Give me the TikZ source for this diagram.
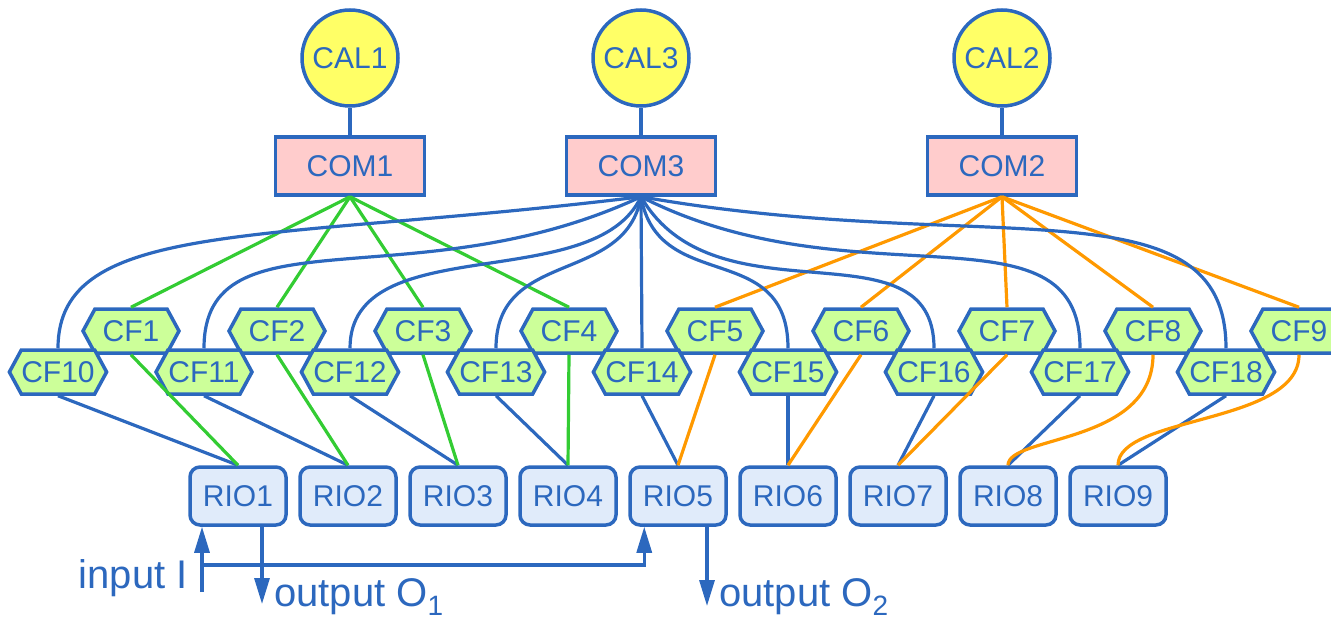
\documentclass[tikz,border=0pt]{standalone}
\usepackage{fontspec}
\setmainfont{Liberation Sans}
\usepackage{xcolor}
\usepackage{tikz}
\usetikzlibrary{positioning,shapes.symbols,arrows.meta}

\definecolor{netblue}{RGB}{44,104,190}
\definecolor{calyellow}{RGB}{255,255,102}
\definecolor{compink}{RGB}{255,204,204}
\definecolor{cfgreen}{RGB}{204,255,153}
\definecolor{riofill}{RGB}{224,235,250}
\definecolor{linkgreen}{RGB}{51,204,51}
\definecolor{linkorange}{RGB}{255,153,0}

\newcommand{\lowsub}[1]{\raisebox{-9pt}{\fontsize{28}{28}\selectfont #1}}

\begin{document}
\begin{tikzpicture}[x=1pt,y=-1pt,on grid,>={Triangle[length=26pt,width=15pt]},
  every node/.style={text=netblue,font=\fontsize{30}{36}\selectfont},
  cal/.style={circle,draw=netblue,fill=calyellow,line width=3.5pt,minimum size=96pt,inner sep=0pt},
  com/.style={rectangle,draw=netblue,fill=compink,line width=3.5pt,minimum width=149pt,minimum height=58pt,inner sep=0pt},
  cf/.style={signal,signal to=west and east,signal pointer angle=123,draw=netblue,fill=cfgreen,line width=3.5pt,minimum width=96pt,minimum height=44pt,inner sep=0pt},
  rio/.style={rectangle,rounded corners=10pt,draw=netblue,fill=riofill,line width=3.5pt,minimum width=96pt,minimum height=58pt,inner sep=0pt},
  lbl/.style={font=\fontsize{40}{48}\selectfont,inner sep=0pt},
  bline/.style={netblue,line width=3.2pt},
  gline/.style={linkgreen,line width=3.2pt},
  oline/.style={linkorange,line width=3.2pt}]
  \useasboundingbox (0,0) rectangle (1331,618);

  \node[cal] (cal1) at (350,58) {CAL1};
  \node[cal] [right=291pt of cal1] (cal3) {CAL3};
  \node[cal] [right=361pt of cal3] (cal2) {CAL2};
  \node[com] [below=108pt of cal1] (com1) {COM1};
  \node[com] [below=108pt of cal3] (com3) {COM3};
  \node[com] [below=108pt of cal2] (com2) {COM2};

  \node[cf] (cf1) at (131,331) {CF1};
  \node[cf] [right=146pt of cf1] (cf2) {CF2};
  \node[cf] [right=146pt of cf2] (cf3) {CF3};
  \node[cf] [right=146pt of cf3] (cf4) {CF4};
  \node[cf] [right=146pt of cf4] (cf5) {CF5};
  \node[cf] [right=146pt of cf5] (cf6) {CF6};
  \node[cf] [right=146pt of cf6] (cf7) {CF7};
  \node[cf] [right=146pt of cf7] (cf8) {CF8};
  \node[cf] [right=146pt of cf8] (cf9) {CF9};
  \node[cf] [below left=41pt and 73pt of cf1] (cf10) {CF10};
  \node[cf] [right=146pt of cf10] (cf11) {CF11};
  \node[cf] [right=146pt of cf11] (cf12) {CF12};
  \node[cf] [right=146pt of cf12] (cf13) {CF13};
  \node[cf] [right=146pt of cf13] (cf14) {CF14};
  \node[cf] [right=146pt of cf14] (cf15) {CF15};
  \node[cf] [right=146pt of cf15] (cf16) {CF16};
  \node[cf] [right=146pt of cf16] (cf17) {CF17};
  \node[cf] [right=146pt of cf17] (cf18) {CF18};

  \node[rio] (rio1) at (238,496) {RIO1};
  \node[rio] [right=110pt of rio1] (rio2) {RIO2};
  \node[rio] [right=110pt of rio2] (rio3) {RIO3};
  \node[rio] [right=110pt of rio3] (rio4) {RIO4};
  \node[rio] [right=110pt of rio4] (rio5) {RIO5};
  \node[rio] [right=110pt of rio5] (rio6) {RIO6};
  \node[rio] [right=110pt of rio6] (rio7) {RIO7};
  \node[rio] [right=110pt of rio7] (rio8) {RIO8};
  \node[rio] [right=110pt of rio8] (rio9) {RIO9};

  \node[lbl,anchor=base east] (inlbl) at (188,588) {input I};
  \node[lbl,anchor=base west] (outlbl1) at (274,606) {output O\lowsub{1}};
  \node[lbl,anchor=base west] (outlbl2) at (719,606) {output O\lowsub{2}};

  \coordinate (inp) at (202,592);
  \coordinate (split) at (202,565);
  \coordinate (out1) at (262,604);
  \coordinate (out2) at (707,606);

  \draw[bline] (cal1) -- (com1);
  \draw[bline] (cal3) -- (com3);
  \draw[bline] (cal2) -- (com2);

  \draw[gline] (com1.south) -- (cf1.north);
  \draw[gline] (com1.south) -- (cf2.north);
  \draw[gline] (com1.south) -- (cf3.north);
  \draw[gline] (com1.south) -- (cf4.north);
  \draw[oline] (com2.south) -- (cf5.north);
  \draw[oline] (com2.south) -- (cf6.north);
  \draw[oline] (com2.south) -- (cf7.north);
  \draw[oline] (com2.south) -- (cf8.north);
  \draw[oline] (com2.south) -- (cf9.north);

  \draw[bline] (com3.south) to[out=187,in=90,out distance=380pt,in distance=130pt] (cf10.north);
  \draw[bline] (com3.south) to[out=205,in=90,out distance=250pt,in distance=140pt] (cf11.north);
  \draw[bline] (com3.south) to[out=245,in=90,out distance=110pt,in distance=120pt] (cf12.north);
  \draw[bline] (com3.south) to[out=260,in=90,out distance=90pt,in distance=100pt] (cf13.north);
  \draw[bline] (com3.south) -- (cf14.north);
  \draw[bline] (com3.south) to[out=280,in=90,out distance=100pt,in distance=110pt] (cf15.north);
  \draw[bline] (com3.south) to[out=300,in=90,out distance=150pt,in distance=130pt] (cf16.north);
  \draw[bline] (com3.south) to[out=333,in=90,out distance=240pt,in distance=150pt] (cf17.north);
  \draw[bline] (com3.south) to[out=350,in=90,out distance=350pt,in distance=170pt] (cf18.north);

  \draw[bline] (cf10.south) -- (rio1.north);
  \draw[bline] (cf11.south) -- (rio2.north);
  \draw[bline] (cf12.south) -- (rio3.north);
  \draw[bline] (cf13.south) -- (rio4.north);
  \draw[bline] (cf14.south) -- (rio5.north);
  \draw[bline] (cf15.south) -- (rio6.north);
  \draw[bline] (cf16.south) -- (rio7.north);
  \draw[bline] (cf17.south) -- (rio8.north);
  \draw[bline] (cf18.south) -- (rio9.north);
  \draw[gline] (cf1.south) -- (rio1.north);
  \draw[gline] (cf2.south) -- (rio2.north);
  \draw[gline] (cf3.south) -- (rio3.north);
  \draw[gline] (cf4.south) -- (rio4.north);
  \draw[oline] (cf5.south) -- (rio5.north);
  \draw[oline] (cf6.south) -- (rio6.north);
  \draw[oline] (cf7.south) -- (rio7.north);
  \draw[oline] (cf8.south) to[out=-90,in=90,out distance=90pt,in distance=30pt] (rio8.north);
  \draw[oline] (cf9.south) to[out=-90,in=90,out distance=70pt,in distance=50pt] (rio9.north);

  \draw[bline,->] (inp) -- (inp |- rio1.south);
  \draw[bline,->] (split) -| ([xshift=16pt]rio5.south west);
  \draw[bline,->] (rio1.south -| out1) -- (out1);
  \draw[bline,->] (rio5.south -| out2) -- (out2);

\end{tikzpicture}
\end{document}
